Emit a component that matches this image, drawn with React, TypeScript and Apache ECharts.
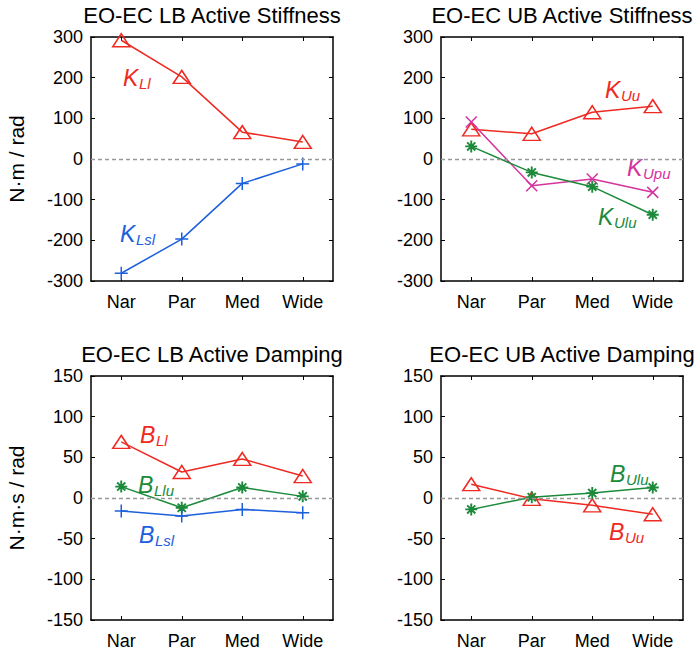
import React, { useEffect, useRef } from 'react';
import * as echarts from 'echarts';

// ---- data ----
const categories = ['Nar', 'Par', 'Med', 'Wide'];

// EO-EC LB Active Stiffness (N·m / rad)
const kLl = [292, 202, 66, 42];
const kLsl = [-281, -197, -60, -12];

// EO-EC UB Active Stiffness (N·m / rad)
const kUu = [73, 62, 115, 130];
const kUpu = [91, -66, -49, -82];
const kUlu = [31, -33, -68, -137];

// EO-EC LB Active Damping (N·m·s / rad)
const bLl = [69, 32, 48, 27];
const bLlu = [14, -12, 13, 2];
const bLsl = [-16, -22, -14, -18];

// EO-EC UB Active Damping (N·m·s / rad)
const bUu = [17, -1, -9, -20];
const bUlu = [-14, 1, 6, 13];

const titles = [
  'EO-EC LB Active Stiffness',
  'EO-EC UB Active Stiffness',
  'EO-EC LB Active Damping',
  'EO-EC UB Active Damping',
];
const yNames = ['N·m / rad', 'N·m·s / rad'];

// ---- styling ----
const FONT = '"Liberation Sans", Arial, Helvetica, sans-serif';
const RED = '#ee2a22';
const BLUE = '#1c60dc';
const GREEN = '#1b8a3a';
const MAGENTA = '#d5339e';

const SYM_TRI = 'triangle';
const SYM_PLUS = 'path://M5,0L5,10M0,5L10,5';
const SYM_CROSS = 'path://M0,0L10,10M10,0L0,10';
const SYM_STAR = 'path://M5,0L5,10M0,5L10,5M1.6,1.6L8.4,8.4M8.4,1.6L1.6,8.4';

const GRIDS = [
  { left: 91, top: 37 },
  { left: 441, top: 37 },
  { left: 91, top: 376 },
  { left: 441, top: 376 },
];
const GW = 242;
const GH = 244;

function lineSeries(data: number[], color: string, grid: number, symbol: string, size: number | number[], extra: any = {}, symW = 1.5) {
  return {
    type: 'line',
    data,
    xAxisIndex: grid * 2,
    yAxisIndex: grid * 2,
    symbol,
    symbolSize: size,
    lineStyle: { color, width: 1.5 },
    itemStyle: { color: 'transparent', borderColor: color, borderWidth: symW },
    emphasis: { disabled: true },
    silent: true,
    ...extra,
  };
}

const zeroLine = {
  markLine: {
    silent: true,
    symbol: ['none', 'none'],
    label: { show: false },
    lineStyle: { color: '#999999', type: [4, 3], width: 1.3 },
    emphasis: { disabled: true },
    data: [{ yAxis: 0 }],
  },
};

function subLabel(main: string, sub: string, x: number, y: number, color: string, off: number) {
  return [
    {
      type: 'text',
      x,
      y,
      style: { text: main, font: `italic 23px ${FONT}`, fill: color, verticalAlign: 'middle', align: 'left' },
    },
    {
      type: 'text',
      x: x + off,
      y: y + 5,
      style: { text: sub, font: `italic 15px ${FONT}`, fill: color, verticalAlign: 'middle', align: 'left' },
    },
  ];
}

export default function App() {
  const ref = useRef<HTMLDivElement>(null);
  useEffect(() => {
    if (!ref.current) return;
    const chart = echarts.init(ref.current, undefined, { renderer: 'svg' });

    const axisLine = { show: true, onZero: false, lineStyle: { color: '#000', width: 1.5 } };
    const axisTick = { show: true, inside: true, length: 4, lineStyle: { color: '#000', width: 1 } };

    const xAxis: any[] = [];
    const yAxis: any[] = [];
    GRIDS.forEach((_, g) => {
      const top = g < 2;
      xAxis.push({
        type: 'category',
        gridIndex: g,
        data: categories,
        position: 'bottom',
        boundaryGap: true,
        axisLine,
        axisTick: { ...axisTick, alignWithLabel: true },
        axisLabel: { color: '#000', fontSize: 18, fontFamily: FONT, margin: 12 },
        splitLine: { show: false },
      });
      xAxis.push({
        type: 'category',
        gridIndex: g,
        data: categories,
        position: 'top',
        boundaryGap: true,
        axisLine,
        axisTick: { ...axisTick, alignWithLabel: true },
        axisLabel: { show: false },
        splitLine: { show: false },
      });
      const range = top ? { min: -300, max: 300, interval: 100 } : { min: -150, max: 150, interval: 50 };
      yAxis.push({
        type: 'value',
        gridIndex: g,
        position: 'left',
        ...range,
        axisLine,
        axisTick,
        axisLabel: { color: '#000', fontSize: 18, fontFamily: FONT, margin: 8 },
        splitLine: { show: false },
      });
      yAxis.push({
        type: 'value',
        gridIndex: g,
        position: 'right',
        ...range,
        axisLine,
        axisTick,
        axisLabel: { show: false },
        splitLine: { show: false },
      });
    });

    const series = [
      lineSeries(kLl, RED, 0, SYM_TRI, [17, 13], zeroLine),
      lineSeries(kLsl, BLUE, 0, SYM_PLUS, 13),
      lineSeries(kUu, RED, 1, SYM_TRI, [17, 13], zeroLine),
      lineSeries(kUpu, MAGENTA, 1, SYM_CROSS, 11),
      lineSeries(kUlu, GREEN, 1, SYM_STAR, 12, {}, 1.9),
      lineSeries(bLl, RED, 2, SYM_TRI, [17, 13], zeroLine),
      lineSeries(bLlu, GREEN, 2, SYM_STAR, 12, {}, 1.9),
      lineSeries(bLsl, BLUE, 2, SYM_PLUS, 13),
      lineSeries(bUu, RED, 3, SYM_TRI, [17, 13], zeroLine),
      lineSeries(bUlu, GREEN, 3, SYM_STAR, 12, {}, 1.9),
    ];

    const graphic: any[] = [];
    GRIDS.forEach((gr, g) => {
      graphic.push({
        type: 'text',
        x: gr.left + GW / 2,
        y: gr.top - 22,
        style: { text: titles[g], font: `22px ${FONT}`, fill: '#000', align: 'center', verticalAlign: 'middle' },
      });
    });
    graphic.push({
      type: 'text', x: 16, y: 159, rotation: Math.PI / 2,
      style: { text: yNames[0], font: `21px ${FONT}`, fill: '#000', align: 'center', verticalAlign: 'middle' },
    });
    graphic.push({
      type: 'text', x: 16, y: 498, rotation: Math.PI / 2,
      style: { text: yNames[1], font: `21px ${FONT}`, fill: '#000', align: 'center', verticalAlign: 'middle' },
    });
    graphic.push(
      ...subLabel('K', 'Ll', 123, 78, RED, 16),
      ...subLabel('K', 'Lsl', 120, 234, BLUE, 16),
      ...subLabel('K', 'Uu', 605, 90, RED, 16),
      ...subLabel('K', 'Upu', 627, 168, MAGENTA, 16),
      ...subLabel('K', 'Ulu', 598, 217, GREEN, 16),
      ...subLabel('B', 'Ll', 140, 435, RED, 16),
      ...subLabel('B', 'Llu', 138, 485, GREEN, 16),
      ...subLabel('B', 'Lsl', 139, 535, BLUE, 16),
      ...subLabel('B', 'Ulu', 610, 474, GREEN, 16),
      ...subLabel('B', 'Uu', 609, 532, RED, 16),
    );

    chart.setOption({
      animation: false,
      backgroundColor: '#ffffff',
      textStyle: { fontFamily: FONT },
      grid: GRIDS.map((gr) => ({ left: gr.left, top: gr.top, width: GW, height: GH })),
      xAxis,
      yAxis,
      series,
      graphic,
    });
    return () => chart.dispose();
  }, []);

  return (
    <div
      ref={ref}
      style={{ position: 'fixed', left: 0, top: 0, width: 699, height: 653, background: '#fff' }}
    />
  );
}
